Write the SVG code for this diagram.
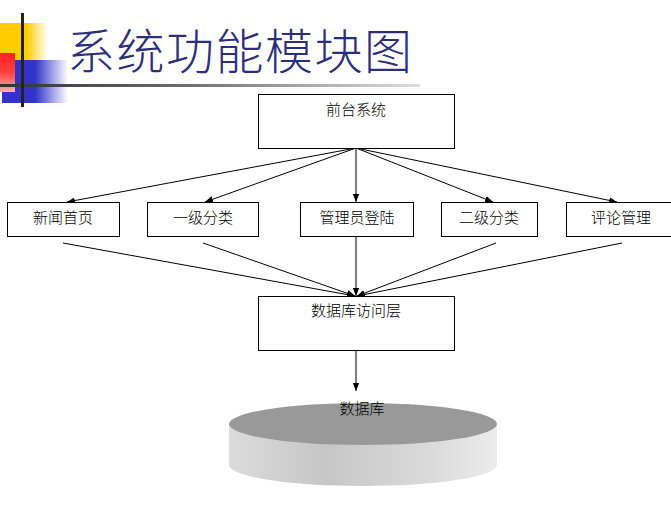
<svg xmlns="http://www.w3.org/2000/svg" width="671" height="517" viewBox="0 0 671 517">
<style>
.box{fill:#fff;stroke:#000;stroke-width:1}
.lbl{font-family:"Noto Sans CJK SC","Liberation Sans",sans-serif;font-size:15px;font-weight:300;fill:#000;text-anchor:middle}
.con line{stroke:#000;stroke-width:1}
.arr{marker-end:url(#ah)}
</style>
<defs>
<marker id="ah" viewBox="0 0 10 10" refX="10" refY="5" markerWidth="8" markerHeight="8" markerUnits="userSpaceOnUse" orient="auto">
<path d="M0,1 L10,5 L0,9 Z" fill="#000"/>
</marker>
<linearGradient id="gy" x1="0" y1="0" x2="1" y2="0">
<stop offset="0" stop-color="#ffcc00"/><stop offset="0.55" stop-color="#ffcc00"/><stop offset="1" stop-color="#ffcc00" stop-opacity="0"/>
</linearGradient>
<linearGradient id="gb" x1="0" y1="0" x2="1" y2="0">
<stop offset="0" stop-color="#3333cc"/><stop offset="0.5" stop-color="#3333cc"/><stop offset="1" stop-color="#3333cc" stop-opacity="0"/>
</linearGradient>
<linearGradient id="gr" x1="0" y1="0" x2="0" y2="1">
<stop offset="0" stop-color="#ff2020"/><stop offset="0.5" stop-color="#ff4040"/><stop offset="1" stop-color="#ffb0b0"/>
</linearGradient>
<linearGradient id="gl" x1="0" y1="0" x2="1" y2="0">
<stop offset="0" stop-color="#333"/><stop offset="0.4" stop-color="#666"/><stop offset="1" stop-color="#ddd"/>
</linearGradient>
<linearGradient id="gs" x1="0" y1="0" x2="1" y2="0">
<stop offset="0" stop-color="#dcdcdc"/><stop offset="0.35" stop-color="#c6c6c6"/><stop offset="0.75" stop-color="#dadada"/><stop offset="1" stop-color="#ececec"/>
</linearGradient>
</defs>
<rect width="671" height="517" fill="#fff"/>
<g id="decor">
<rect x="0" y="23" width="48" height="38" fill="url(#gy)"/>
<rect x="2" y="60" width="66" height="43" fill="url(#gb)"/>
<rect x="0" y="53" width="15" height="39" fill="url(#gr)"/>
<rect x="0" y="84" width="420" height="3" fill="url(#gl)"/>
<rect x="21" y="13" width="3" height="94" fill="#222"/>
</g>
<text id="title" x="67" y="69" font-family="'Noto Sans CJK SC',sans-serif" font-weight="200" font-size="48" letter-spacing="1.5" fill="#2d2d7d">系统功能模块图</text>
<g id="connectors" class="con">
<line class="arr" x1="356" y1="148" x2="67" y2="202"/>
<line class="arr" x1="356" y1="148" x2="205" y2="202"/>
<line class="arr" x1="356" y1="148" x2="356" y2="202"/>
<line class="arr" x1="356" y1="148" x2="493" y2="202"/>
<line class="arr" x1="356" y1="148" x2="617" y2="202"/>
<line class="arr" x1="63" y1="243" x2="355" y2="296"/>
<line class="arr" x1="203" y1="243" x2="355" y2="296"/>
<line class="arr" x1="356" y1="237" x2="356" y2="296"/>
<line class="arr" x1="496" y1="243" x2="357" y2="296"/>
<line class="arr" x1="622" y1="243" x2="357" y2="296"/>
<line class="arr" x1="356" y1="350" x2="356" y2="391"/>
</g>
<g id="frontend"><rect class="box" x="258.5" y="94.5" width="196" height="54"/><text class="lbl" x="356" y="115">前台系统</text></g>
<g id="news"><rect class="box" x="7.5" y="202.5" width="112" height="34"/><text class="lbl" x="63" y="223">新闻首页</text></g>
<g id="cat1"><rect class="box" x="147.5" y="202.5" width="111" height="34"/><text class="lbl" x="203" y="223">一级分类</text></g>
<g id="admin"><rect class="box" x="300.5" y="202.5" width="113" height="34"/><text class="lbl" x="357" y="223">管理员登陆</text></g>
<g id="cat2"><rect class="box" x="441.5" y="202.5" width="96" height="34"/><text class="lbl" x="489" y="223">二级分类</text></g>
<g id="comment"><rect class="box" x="566.5" y="202.5" width="106" height="34"/><text class="lbl" x="621" y="223">评论管理</text></g>
<g id="dal"><rect class="box" x="258.5" y="296.5" width="196" height="54"/><text class="lbl" x="356" y="316">数据库访问层</text></g>
<g id="db">
<path d="M229,424 L229,465 A134,21 0 0 0 497,465 L497,424 Z" fill="url(#gs)"/>
<ellipse cx="363" cy="424" rx="134" ry="21" fill="#999"/>
<text class="lbl" x="362" y="414">数据库</text>
</g>
</svg>
